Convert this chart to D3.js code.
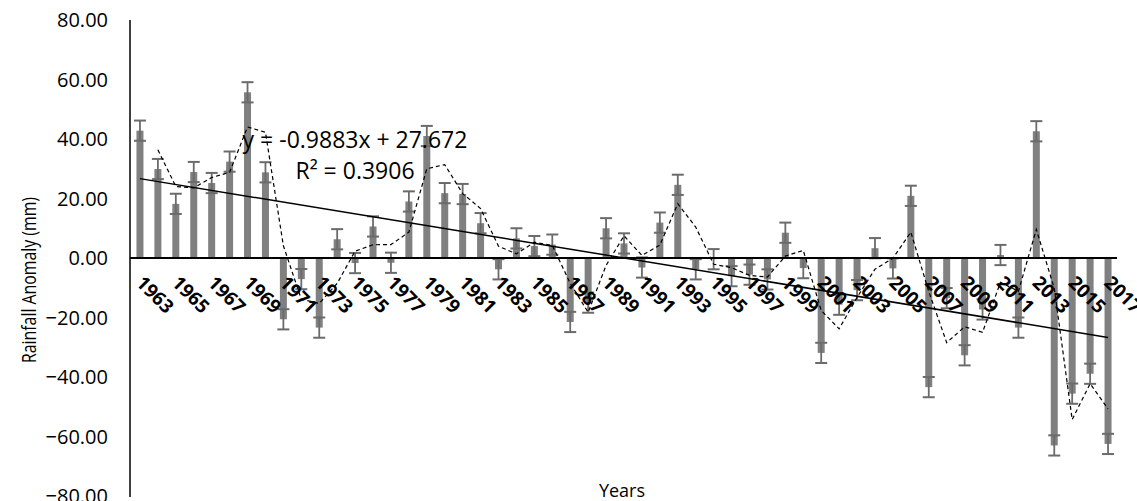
<!DOCTYPE html>
<html>
<head>
<meta charset="utf-8">
<script src="https://cdn.jsdelivr.net/npm/d3@7"></script>
<style>
  html, body { margin: 0; padding: 0; background: #fff; }
  svg { display: block; font-family: "Open Sans", sans-serif; }
</style>
</head>
<body>
<svg id="chart" width="1137" height="501"></svg>
<script>
// 数据
const years = d3.range(1963, 2018);
const anomaly = [
  42.8, 29.9, 18.2, 28.9, 25.2, 32.4, 55.7, 28.8, -20.6, -7.1,
  -23.4, 6.3, -1.7, 10.6, -1.6, 19.0, 41.0, 21.8, 21.5, 11.7,
  -3.8, 6.6, 4.0, 4.5, -21.5, -15.0, 10.0, 4.9, -3.2, 11.9,
  24.6, -3.8, -0.4, -6.1, -5.6, -7.2, 8.5, -3.4, -31.9, -15.7,
  -10.8, 3.3, -3.5, 20.9, -43.4, -13.5, -32.7, -17.3, 1.0, -23.4,
  42.6, -63.0, -45.6, -38.9, -62.5
];
const errorValue = 3.4;                 // 误差线 (固定值)
const yTicks = [80, 60, 40, 20, 0, -20, -40, -60, -80];
const xTickYears = years.filter((d, i) => i % 2 === 0);
const trendSlope = -0.9883;
const trendIntercept = 27.672;
const trendR2 = 0.3906;
const maPeriod = 2;

// 样式配置
const Config = {
  plot: { left: 131, right: 1117, top: 20, bottom: 496 },
  barWidth: 7,
  barFill: '#808080',
  errStroke: '#6b6b6b',
  capWidth: 12
};

function movingAverage(values, n) {
  const out = [];
  for (let i = n - 1; i < values.length; i++) {
    out.push({ i, v: d3.mean(values.slice(i - n + 1, i + 1)) });
  }
  return out;
}

function draw() {
  const svg = d3.select('#chart');
  const P = Config.plot;

  const x = d3.scaleBand().domain(years).range([P.left, P.right]).padding(0);
  const y = d3.scaleLinear().domain([-80, 80]).range([P.bottom, P.top]);
  const cx = yr => x(yr) + x.bandwidth() / 2;

  // 柱子
  svg.append('g').selectAll('rect')
    .data(anomaly)
    .enter().append('rect')
    .attr('x', (d, i) => cx(years[i]) - Config.barWidth / 2)
    .attr('width', Config.barWidth)
    .attr('y', d => y(Math.max(0, d)))
    .attr('height', d => Math.abs(y(d) - y(0)))
    .attr('fill', Config.barFill);

  // 误差线
  const err = svg.append('g').attr('stroke', Config.errStroke).attr('fill', 'none');
  anomaly.forEach((d, i) => {
    const c = cx(years[i]);
    const hi = y(d + errorValue), lo = y(d - errorValue);
    err.append('line').attr('x1', c).attr('x2', c).attr('y1', hi).attr('y2', lo).attr('stroke-width', 1.8);
    [hi, lo].forEach(yy => {
      err.append('line')
        .attr('x1', c - Config.capWidth / 2).attr('x2', c + Config.capWidth / 2)
        .attr('y1', yy).attr('y2', yy).attr('stroke-width', 2);
    });
  });

  // Y 轴
  svg.append('line')
    .attr('x1', P.left - 1).attr('x2', P.left - 1)
    .attr('y1', P.top).attr('y2', P.bottom + 1)
    .attr('stroke', '#000').attr('stroke-width', 1.5);

  svg.append('g').selectAll('text')
    .data(yTicks)
    .enter().append('text')
    .attr('x', 108)
    .attr('y', d => y(d))
    .attr('dy', '0.35em')
    .attr('text-anchor', 'end')
    .attr('font-size', 20)
    .attr('fill', '#000')
    .text(d => d3.format('.2f')(d));

  // 零线 (类别轴)
  svg.append('line')
    .attr('x1', P.left - 1).attr('x2', P.right)
    .attr('y1', y(0)).attr('y2', y(0))
    .attr('stroke', '#000').attr('stroke-width', 2);

  // X 轴标签 (旋转 45°)
  svg.append('g').selectAll('text')
    .data(xTickYears)
    .enter().append('text')
    .attr('transform', d => `translate(${cx(d) - 5},${y(0) + 26}) rotate(45)`)
    .attr('font-size', 19)
    .attr('font-weight', 'bold')
    .attr('fill', '#000')
    .text(d => d);

  // 移动平均线 (2 期)
  const ma = movingAverage(anomaly, maPeriod);
  svg.append('path')
    .datum(ma)
    .attr('fill', 'none')
    .attr('stroke', '#000')
    .attr('stroke-width', 1.2)
    .attr('stroke-dasharray', '4,3')
    .attr('d', d3.line().x(d => cx(years[d.i])).y(d => y(d.v)));

  // 线性趋势线
  const trend = years.map((yr, i) => ({ yr, v: trendSlope * (i + 1) + trendIntercept }));
  const ends = [trend[0], trend[trend.length - 1]];
  svg.append('path')
    .datum(ends)
    .attr('fill', 'none')
    .attr('stroke', '#000')
    .attr('stroke-width', 1.5)
    .attr('d', d3.line().x(d => cx(d.yr)).y(d => y(d.v)));

  // 公式文字
  const eq = svg.append('g').attr('font-size', 23).attr('fill', '#000').attr('text-anchor', 'middle');
  eq.append('text').attr('x', 355).attr('y', 140).attr('dy', '0.35em')
    .text(`y = ${trendSlope}x + ${trendIntercept}`);
  eq.append('text').attr('x', 355).attr('y', 171).attr('dy', '0.35em')
    .text(`R² = ${trendR2}`);

  // 轴标题
  svg.append('text')
    .attr('transform', `translate(36,280) rotate(-90)`)
    .attr('text-anchor', 'middle')
    .attr('font-size', 20)
    .attr('textLength', 166)
    .attr('lengthAdjust', 'spacingAndGlyphs')
    .text('Rainfall Anomaly (mm)');

  svg.append('text')
    .attr('x', (P.left + P.right) / 2 - 2)
    .attr('y', 497)
    .attr('text-anchor', 'middle')
    .attr('font-size', 18)
    .text('Years');
}

document.addEventListener('DOMContentLoaded', draw);
</script>
</body>
</html>
